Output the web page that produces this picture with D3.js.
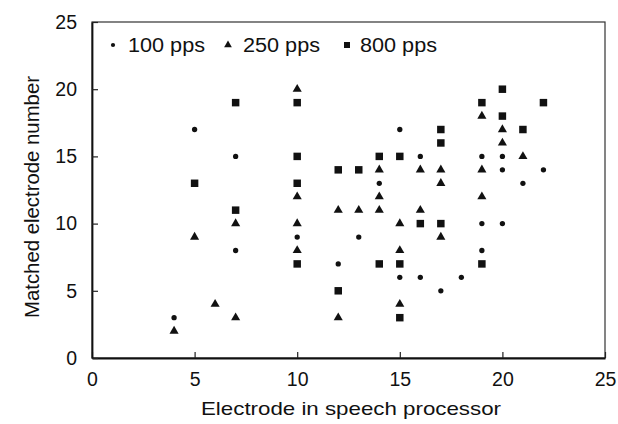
<!DOCTYPE html>
<html>
<head>
<meta charset="utf-8">
<script src="https://cdn.jsdelivr.net/npm/d3@7"></script>
<style>
  body { margin: 0; background: #fff; }
  text { font-family: "Liberation Sans", Arial, sans-serif; fill: #111; }
</style>
</head>
<body>
<div id="chart"></div>
<script>
// matched electrode data, [electrode in processor, matched electrode]
const pps100 = [[4,3],[5,17],[7,15],[7,8],[10,9],[12,7],[13,9],[14,13],[15,17],[15,6],
  [16,15],[16,6],[17,5],[18,6],[19,15],[19,10],[19,8],[20,15],[20,14],[20,10],[21,13],[22,14]];
const pps250 = [[4,2],[5,9],[6,4],[7,10],[7,3],[10,20],[10,12],[10,10],[10,8],[12,11],[12,3],
  [13,11],[14,14],[14,12],[14,11],[15,10],[15,8],[15,4],[16,14],[16,11],[17,14],[17,13],[17,9],
  [19,18],[19,14],[19,12],[20,17],[20,16],[21,15]];
const pps800 = [[5,13],[7,19],[7,11],[10,19],[10,15],[10,13],[10,7],[12,14],[12,5],[13,14],
  [14,15],[14,7],[15,15],[15,7],[15,3],[16,10],[17,17],[17,16],[17,10],[19,19],[19,7],
  [20,20],[20,18],[21,17],[22,19]];
const seriesNames = ["100 pps", "250 pps", "800 pps"];
const ticks = [0, 5, 10, 15, 20, 25];

const width = 618, height = 424;
const svg = d3.select("#chart").append("svg")
  .attr("width", width).attr("height", height);

const x = d3.scaleLinear().domain([0, 25]).range([92, 605]);
const y = d3.scaleLinear().domain([0, 25]).range([358, 22]);

// frame
svg.append("rect")
  .attr("x", x(0)).attr("y", y(25))
  .attr("width", x(25) - x(0)).attr("height", y(0) - y(25))
  .attr("fill", "none").attr("stroke", "#333").attr("stroke-width", 1.2);

// axes with inward ticks
const xAxis = svg.append("g")
  .attr("transform", `translate(0,${y(0)})`)
  .call(d3.axisBottom(x).tickValues(ticks).tickSize(-6).tickPadding(14).tickSizeOuter(0));
const yAxis = svg.append("g")
  .attr("transform", `translate(${x(0)},0)`)
  .call(d3.axisLeft(y).tickValues(ticks).tickSize(-6).tickPadding(15).tickSizeOuter(0));
[xAxis, yAxis].forEach(g => {
  g.select(".domain").attr("stroke", "#111").attr("stroke-width", 1.8);
  g.selectAll(".tick line").attr("stroke", "#222").attr("stroke-width", 1.2);
  g.selectAll(".tick text").attr("font-size", 19.5).attr("fill", "#111")
    .attr("font-family", "Liberation Sans, Arial, sans-serif");
});

// axis titles (the scan is slightly wide, so stretch glyphs to the measured length)
svg.append("text")
  .attr("x", 351).attr("y", 415)
  .attr("text-anchor", "middle").attr("font-size", 19)
  .attr("textLength", 300).attr("lengthAdjust", "spacingAndGlyphs")
  .text("Electrode in speech processor");
svg.append("text")
  .attr("transform", "translate(39,197) rotate(-90)")
  .attr("text-anchor", "middle").attr("font-size", 19.5)
  .attr("textLength", 242).attr("lengthAdjust", "spacingAndGlyphs")
  .text("Matched electrode number");

// markers
const symbolTypes = [d3.symbolCircle, d3.symbolTriangle, d3.symbolSquare];
const markerSize = [22, 36, 56];
[pps100, pps250, pps800].forEach((data, i) => {
  svg.append("g")
    .selectAll("path")
    .data(data)
    .join("path")
    .attr("d", d3.symbol().type(symbolTypes[i]).size(markerSize[i]))
    .attr("transform", d => `translate(${x(d[0])},${y(d[1])})`)
    .attr("fill", "#111");
});

// legend
const legendX = [113, 228, 347];
const legendSize = [14, 26, 36];
seriesNames.forEach((name, i) => {
  const lg = svg.append("g").attr("transform", `translate(${legendX[i]},45)`);
  lg.append("path")
    .attr("d", d3.symbol().type(symbolTypes[i]).size(legendSize[i]))
    .attr("fill", "#111");
  lg.append("text")
    .attr("x", [15, 15, 13][i]).attr("y", 7)
    .attr("font-size", 19.5)
    .attr("textLength", 77).attr("lengthAdjust", "spacingAndGlyphs")
    .text(name);
});
</script>
</body>
</html>
